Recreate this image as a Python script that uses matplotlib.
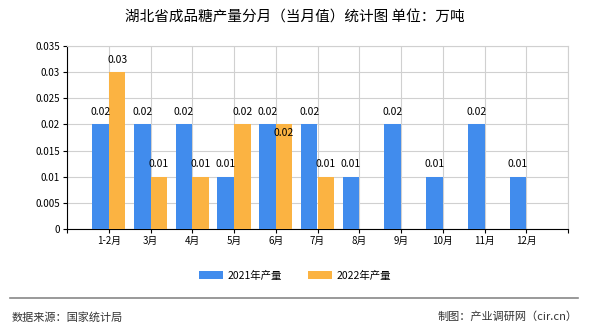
import matplotlib
matplotlib.use("Agg")
import matplotlib.pyplot as plt
import numpy as np

plt.rcParams['font.family'] = ['Noto Sans CJK SC', 'DejaVu Sans']

months = ['1-2月', '3月', '4月', '5月', '6月', '7月', '8月', '9月', '10月', '11月', '12月']
y2021 = [0.02, 0.02, 0.02, 0.01, 0.02, 0.02, 0.01, 0.02, 0.01, 0.02, 0.01]
y2022 = [0.03, 0.01, 0.01, 0.02, 0.02, 0.01]
yticks = [0, 0.005, 0.01, 0.015, 0.02, 0.025, 0.03, 0.035]
ytick_labels = ['0', '0.005', '0.01', '0.015', '0.02', '0.025', '0.03', '0.035']

blue = '#418ced'
orange = '#fbb342'

fig = plt.figure(figsize=(5.9, 3.3), dpi=100)
ax = fig.add_axes([67 / 590, 1 - 229 / 330, (568 - 67) / 590, (229 - 46) / 330])

x = np.arange(1, len(months) + 1)
x22 = x[:len(y2022)]
w = 0.4
b1 = ax.bar(x - w / 2, y2021, w, color=blue, label='2021年产量', zorder=3)
b2 = ax.bar(x22 + w / 2, y2022, w, color=orange, label='2022年产量', zorder=3)

for xs, vals, name in ((x - w / 2, y2021, '2021'), (x22 + w / 2, y2022, '2022')):
    for i, (xi, v) in enumerate(zip(xs, vals)):
        dy = 9
        # the chart pushes the 6月 2022 label down to dodge its neighbour
        if name == '2022' and i == 4:
            dy = -6
        ax.annotate(f'{v:.2f}', (xi, v), xytext=(0, dy), textcoords='offset points',
                    ha='center', va='center', fontsize=7.5, zorder=4)

ax.set_xlim(0, 12)
ax.set_ylim(0, 0.035)
ax.set_yticks(yticks)
ax.set_yticklabels(ytick_labels, fontsize=7)
ax.set_xticks(np.arange(0, 13))
ax.set_xticklabels([''] + months + [''], fontsize=7)
ax.grid(True, color='#d0d0d0', linewidth=0.8, zorder=0)
ax.tick_params(length=3, width=0.8, color='black', pad=2)
for s in ('top', 'right'):
    ax.spines[s].set_color('#d0d0d0')
for s in ('left', 'bottom'):
    ax.spines[s].set_color('black')

fig.text(0.5, 1 - 18 / 330, '湖北省成品糖产量分月（当月值）统计图 单位：万吨',
         ha='center', va='center', fontsize=10.5)

fig.legend(handles=[b1, b2], loc='center', bbox_to_anchor=(0.5, 1 - 276 / 330),
           ncol=2, frameon=False, fontsize=7.5, handlelength=2.3, handleheight=0.8,
           columnspacing=2.5, handletextpad=0.4)

fig.add_artist(plt.Line2D([10 / 590, 578 / 590], [1 - 298 / 330] * 2, color='#888888', linewidth=1.2))
fig.text(12 / 590, 1 - 317 / 330, '数据来源：国家统计局', ha='left', va='center', fontsize=8, color='#333333')
fig.text(578 / 590, 1 - 317 / 330, '制图：产业调研网（cir.cn）', ha='right', va='center', fontsize=8, color='#333333')

fig.savefig('out.png', dpi=100)
